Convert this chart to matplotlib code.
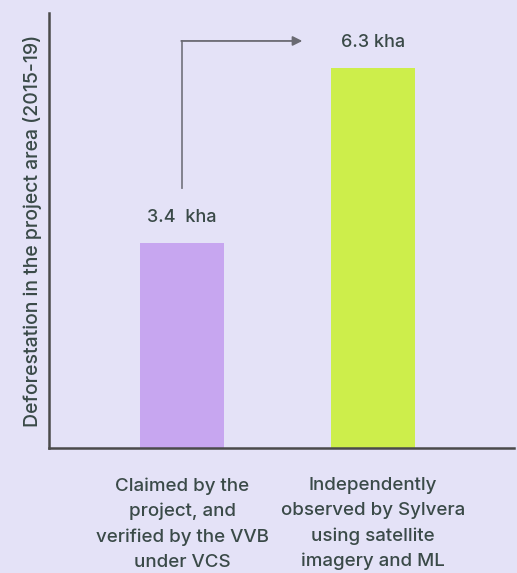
import matplotlib.pyplot as plt

# Deforestation claimed vs observed
categories = [
    "Claimed by the\nproject, and\nverified by the VVB\nunder VCS",
    "Independently\nobserved by Sylvera\nusing satellite\nimagery and ML",
]
values = [3.4, 6.3]
value_labels = ["3.4  kha", "6.3 kha"]
bar_colors = ["#c7a6f0", "#cdee4b"]

BG = "#e4e2f7"
TEXT = "#3a4a48"

plt.rcParams['font.family'] = ['Inter', 'DejaVu Sans']

fig = plt.figure(figsize=(5.17, 5.73), dpi=100, facecolor=BG)
ax = fig.add_axes([0.095, 0.218, 0.899, 0.759])
ax.set_facecolor(BG)

x = list(range(len(values)))
ax.bar(x, values, width=0.435, color=bar_colors, zorder=2)

ax.set_xlim(-0.696, 1.738)
ax.set_ylim(0, 7.2)

for xi, v, lab in zip(x, values, value_labels):
    ax.text(xi, v + 0.27, lab, ha='center', va='bottom',
            fontsize=13, color=TEXT, fontweight='medium')

# elbow arrow from the claimed value to the observed one
top = values[1] + 0.44
ax.plot([x[0], x[0]], [values[0] + 0.9, top], color='#7a7a85', lw=1.3, zorder=3)
ax.annotate('', xy=(x[0] + 0.63, top), xytext=(x[0] - 0.004, top),
            arrowprops=dict(arrowstyle='-|>', color='#6a6a72', lw=1.3,
                            mutation_scale=14, shrinkA=0, shrinkB=0))

ax.set_xticks(x)
ax.set_xticklabels(categories, fontsize=13.5, color=TEXT, linespacing=1.6,
                   fontweight='medium')
ax.tick_params(axis='x', length=0, pad=21)
ax.set_yticks([])

ax.set_ylabel('Deforestation in the project area (2015-19)', fontsize=14,
              color=TEXT, labelpad=5, fontweight='medium')

for side in ['top', 'right']:
    ax.spines[side].set_visible(False)
for side in ['left', 'bottom']:
    ax.spines[side].set_color('#4a4a4a')
    ax.spines[side].set_linewidth(1.8)

fig.savefig('out.png', dpi=100, facecolor=BG)
